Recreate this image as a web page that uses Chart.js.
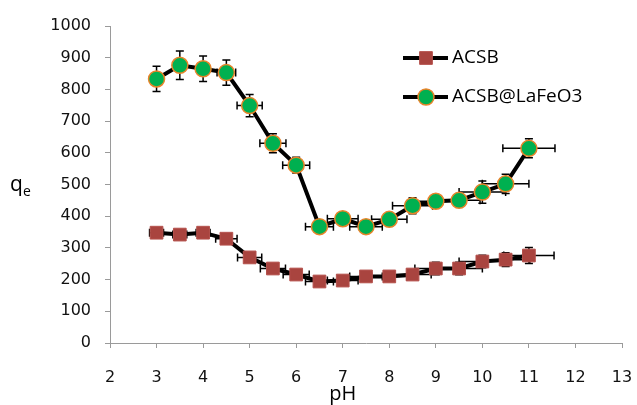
<!DOCTYPE html>
<html>
<head>
<meta charset="utf-8">
<script src="https://cdn.jsdelivr.net/npm/chart.js@4/dist/chart.umd.min.js"></script>
<style>
  html, body { margin: 0; padding: 0; background: #fff; }
  #chart { display: block; }
</style>
</head>
<body>
<canvas id="chart" width="637" height="405"></canvas>
<script>
// pH values shared by both series
const ph = [3, 3.5, 4, 4.5, 5, 5.5, 6, 6.5, 7, 7.5, 8, 8.5, 9, 9.5, 10, 10.5, 11];

// ACSB
const acsb = [348, 342, 348, 329, 270, 235, 216, 194, 197, 210, 210, 216, 235, 235, 257, 263, 276];
const acsbErrY = [15, 15, 15, 15, 15, 15, 15, 15, 15, 15, 15, 15, 20, 20, 20, 22, 25];
const acsbErrX = [0.15, 0.15, 0.15, 0.23, 0.26, 0.27, 0.28, 0.3, 0.33, 0.35, 0.38, 0.4, 0.45, 0.5, 0.5, 0.52, 0.54];

// ACSB@LaFeO3
const lafeo3 = [833, 876, 865, 853, 749, 630, 561, 367, 392, 367, 390, 433, 447, 450, 476, 502, 614];
const lafeo3ErrY = [40, 45, 40, 40, 35, 30, 25, 15, 20, 20, 20, 25, 20, 20, 35, 30, 30];
const lafeo3ErrX = [0, 0, 0, 0.2, 0.27, 0.28, 0.29, 0.3, 0.33, 0.35, 0.38, 0.43, 0.45, 0.45, 0.5, 0.5, 0.56];

const seriesNames = ['ACSB', 'ACSB@LaFeO3'];

const toPoints = (ys) => ph.map((x, i) => ({ x: x, y: ys[i] }));

// error bars drawn under the markers
const errorBars = {
  id: 'errorBars',
  beforeDatasetsDraw(chart) {
    const { ctx, scales: { x, y } } = chart;
    const cap = 4;
    ctx.save();
    ctx.strokeStyle = '#000';
    ctx.lineWidth = 1.5;
    chart.data.datasets.forEach(ds => {
      ds.data.forEach((p, i) => {
        const px = x.getPixelForValue(p.x);
        const py = y.getPixelForValue(p.y);
        const ey = ds.errY[i];
        const ex = ds.errX[i];
        ctx.beginPath();
        if (ey) {
          const y1 = y.getPixelForValue(p.y + ey);
          const y2 = y.getPixelForValue(p.y - ey);
          ctx.moveTo(px, y1); ctx.lineTo(px, y2);
          ctx.moveTo(px - cap, y1); ctx.lineTo(px + cap, y1);
          ctx.moveTo(px - cap, y2); ctx.lineTo(px + cap, y2);
        }
        if (ex) {
          const x1 = x.getPixelForValue(p.x - ex);
          const x2 = x.getPixelForValue(p.x + ex);
          ctx.moveTo(x1, py); ctx.lineTo(x2, py);
          ctx.moveTo(x1, py - cap); ctx.lineTo(x1, py + cap);
          ctx.moveTo(x2, py - cap); ctx.lineTo(x2, py + cap);
        }
        ctx.stroke();
      });
    });
    ctx.restore();
  }
};

// legend box on the right, the horizontal q_e label and the pH label
const extras = {
  id: 'extras',
  afterDraw(chart) {
    const { ctx, chartArea, scales: { x } } = chart;
    ctx.save();
    chart.data.datasets.forEach((ds, i) => {
      const ly = 58 + i * 39;
      ctx.strokeStyle = '#000';
      ctx.lineWidth = 4;
      ctx.beginPath();
      ctx.moveTo(403, ly);
      ctx.lineTo(448, ly);
      ctx.stroke();
      ctx.fillStyle = ds.pointBackgroundColor;
      ctx.strokeStyle = ds.pointBorderColor;
      ctx.lineWidth = ds.pointBorderWidth;
      Chart.helpers.drawPoint(ctx, {
        pointStyle: ds.pointStyle,
        radius: ds.pointRadius,
        rotation: 0,
        borderWidth: ds.pointBorderWidth
      }, 426, ly);
      ctx.fillStyle = '#000';
      ctx.font = '19px "Open Sans"';
      ctx.textBaseline = 'middle';
      ctx.textAlign = 'left';
      ctx.fillText(ds.label, 452, ly);
    });

    const midY = (chartArea.top + chartArea.bottom) / 2;
    ctx.fillStyle = '#000';
    ctx.textBaseline = 'alphabetic';
    ctx.font = '21px "Open Sans"';
    ctx.fillText('q', 10, midY + 6);
    ctx.font = '14px "Open Sans"';
    ctx.fillText('e', 23, midY + 11);

    ctx.font = '20px "Open Sans"';
    ctx.textAlign = 'center';
    ctx.textBaseline = 'middle';
    ctx.fillText('pH', x.getPixelForValue(7), 394);
    ctx.restore();
  }
};

const axisColor = '#9a9a9a';

new Chart(document.getElementById('chart'), {
  type: 'scatter',
  data: {
    datasets: [
      {
        label: seriesNames[0],
        data: toPoints(acsb),
        errY: acsbErrY,
        errX: acsbErrX,
        showLine: true,
        borderColor: '#000',
        borderWidth: 4,
        pointStyle: 'rect',
        pointRadius: 9,
        pointBackgroundColor: '#A9443F',
        pointBorderColor: '#B5514C',
        pointBorderWidth: 1
      },
      {
        label: seriesNames[1],
        data: toPoints(lafeo3),
        errY: lafeo3ErrY,
        errX: lafeo3ErrX,
        showLine: true,
        borderColor: '#000',
        borderWidth: 4,
        pointStyle: 'circle',
        pointRadius: 8,
        pointBackgroundColor: '#00B050',
        pointBorderColor: '#E8842A',
        pointBorderWidth: 1.5
      }
    ]
  },
  options: {
    responsive: false,
    animation: false,
    layout: { padding: { top: 26, right: 15, left: 0, bottom: 0 } },
    plugins: {
      legend: { display: false },
      tooltip: { enabled: false }
    },
    scales: {
      x: {
        type: 'linear',
        min: 2,
        max: 13,
        afterFit: (s) => {
          s.height = 62;
          s.paddingLeft = 0;
          s.paddingRight = 0;
        },
        ticks: {
          stepSize: 1,
          padding: 20,
          color: '#111',
          font: { family: 'DejaVu Sans', size: 16 }
        },
        grid: { drawOnChartArea: false, tickLength: 5, color: axisColor },
        border: { color: axisColor, width: 1 }
      },
      y: {
        min: 0,
        max: 1000,
        afterFit: (s) => { s.width = 110; },
        ticks: {
          stepSize: 100,
          padding: 14,
          color: '#111',
          font: { family: 'DejaVu Sans', size: 16 },
          callback: (v) => String(v)
        },
        grid: { drawOnChartArea: false, tickLength: 5, color: axisColor },
        border: { color: axisColor, width: 1 }
      }
    }
  },
  plugins: [errorBars, extras]
});
</script>
</body>
</html>
